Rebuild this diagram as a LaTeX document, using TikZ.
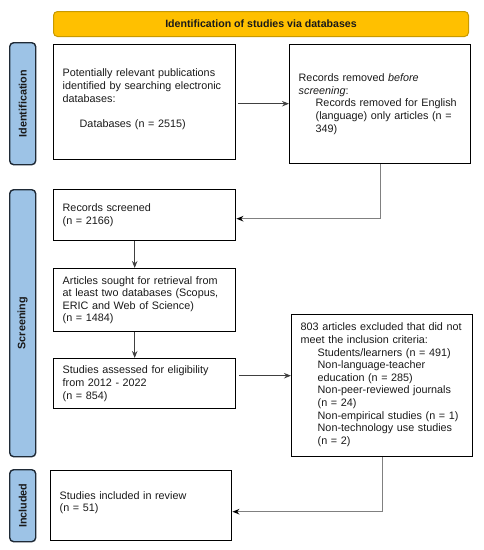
\documentclass[tikz,border=0pt]{standalone}
\usepackage{fontspec}
\setmainfont{Liberation Sans}
\usetikzlibrary{arrows.meta}
\definecolor{hdrfill}{HTML}{FFC000}
\definecolor{hdrdraw}{HTML}{C89A00}
\definecolor{sidefill}{HTML}{9DC3E6}
\definecolor{sidedraw}{HTML}{1F2A36}
\definecolor{linegray}{HTML}{808080}
\definecolor{txt}{HTML}{1A1A1A}
\tikzset{
  box/.style={draw=black, line width=1.4pt, fill=white, anchor=north west, align=left,
    inner xsep=9pt, inner ysep=0pt, text=txt,
    font=\fontsize{10.8}{12.6}\selectfont},
  side/.style={draw=sidedraw, fill=sidefill, line width=1.4pt, rounded corners=4pt,
    anchor=north west, inner sep=0pt, minimum width=26pt, text=txt,
    font=\fontsize{10.8}{12}\selectfont\bfseries},
  hdr/.style={draw=hdrdraw, fill=hdrfill, line width=1pt, rounded corners=4pt,
    anchor=north west, inner sep=0pt, text=txt,
    font=\fontsize{10.6}{12}\selectfont\bfseries},
  arr/.style={draw=black!75, line width=1pt, -{Stealth[length=7pt,width=5.5pt]}},
  elb/.style={draw=linegray, line width=1.2pt, -{Stealth[length=7pt,width=5.5pt,color=black]}}
}
\begin{document}
\begin{tikzpicture}[x=1pt,y=-1pt]
\useasboundingbox (0,0) rectangle (483,550);
\fill[white] (0,0) rectangle (483,550);

\node[hdr, minimum width=415pt, minimum height=25pt] (hd) at (53,11) {Identification of studies via databases};

\node[side, minimum height=122pt] (sid1) at (9,42) {\rotatebox{90}{Identification}};
\node[side, minimum height=267pt] (sid2) at (9,189) {\rotatebox{90}{Screening}};
\node[side, minimum height=72pt] (sid3) at (9,469) {\rotatebox{90}{Included}};

\node[box, minimum width=180pt, minimum height=115pt, text width=164pt] (b1) at (53,44)
  {Potentially relevant publications\\identified by searching electronic\\databases:\\[12.6pt]\hspace*{17pt}Databases (n = 2515)\\[-4.6pt]\mbox{}};
\node[box, minimum width=181pt, minimum height=119pt, text width=163pt, inner xsep=9pt] (rem) at (289,44)
  {Records removed \textit{before}\\\textit{screening}:\\\hspace*{17pt}Records removed for English\\\hspace*{17pt}(language) only articles (n =\\\hspace*{17pt}349)};
\node[box, minimum width=180pt, minimum height=51pt, text width=164pt] (scr) at (53,189)
  {Records screened\\(n = 2166)};
\node[box, minimum width=180pt, minimum height=63pt, text width=164pt] (art) at (53,268)
  {Articles sought for retrieval from\\at least two databases (Scopus,\\ERIC and Web of Science)\\(n = 1484)};
\node[box, minimum width=180pt, minimum height=50pt, text width=164pt] (ass) at (53,358)
  {Studies assessed for eligibility\\from 2012 - 2022\\(n = 854)};
\node[box, minimum width=181pt, minimum height=142pt, text width=163pt, inner xsep=9pt] (exc) at (291,314)
  {803 articles excluded that did not\\meet the inclusion criteria:\\
   \hspace*{17pt}Students/learners (n = 491)\\
   \hspace*{17pt}Non-language-teacher\\
   \hspace*{17pt}education (n = 285)\\
   \hspace*{17pt}Non-peer-reviewed journals\\
   \hspace*{17pt}(n = 24)\\
   \hspace*{17pt}Non-empirical studies (n = 1)\\
   \hspace*{17pt}Non-technology use studies\\
   \hspace*{17pt}(n = 2)\\[-8.6pt]\mbox{}};
\node[box, minimum width=181pt, minimum height=70pt, text width=163pt, inner xsep=9pt] (inc) at (50,470)
  {Studies included in review\\(n = 51)\\[-4.6pt]\mbox{}};

\coordinate (p1) at ([xshift=2pt,yshift=-1.5pt]b1.east);
\draw[arr] (p1) -- (p1 -| rem.west);
\coordinate (p2) at ([yshift=-3.5pt]scr.east);
\draw[elb] (rem.south) |- (p2);
\draw[arr] ([xshift=-10pt]scr.south) -- ([xshift=-10pt]art.north);
\draw[arr] ([xshift=-10pt]art.south) -- ([xshift=-10pt]ass.north);
\coordinate (p3) at ([xshift=3pt,yshift=8pt]ass.east);
\draw[arr] (p3) -- (p3 -| exc.west);
\coordinate (p4) at ([yshift=-6pt]inc.east);
\draw[elb] (exc.south) |- (p4);
\end{tikzpicture}
\end{document}
